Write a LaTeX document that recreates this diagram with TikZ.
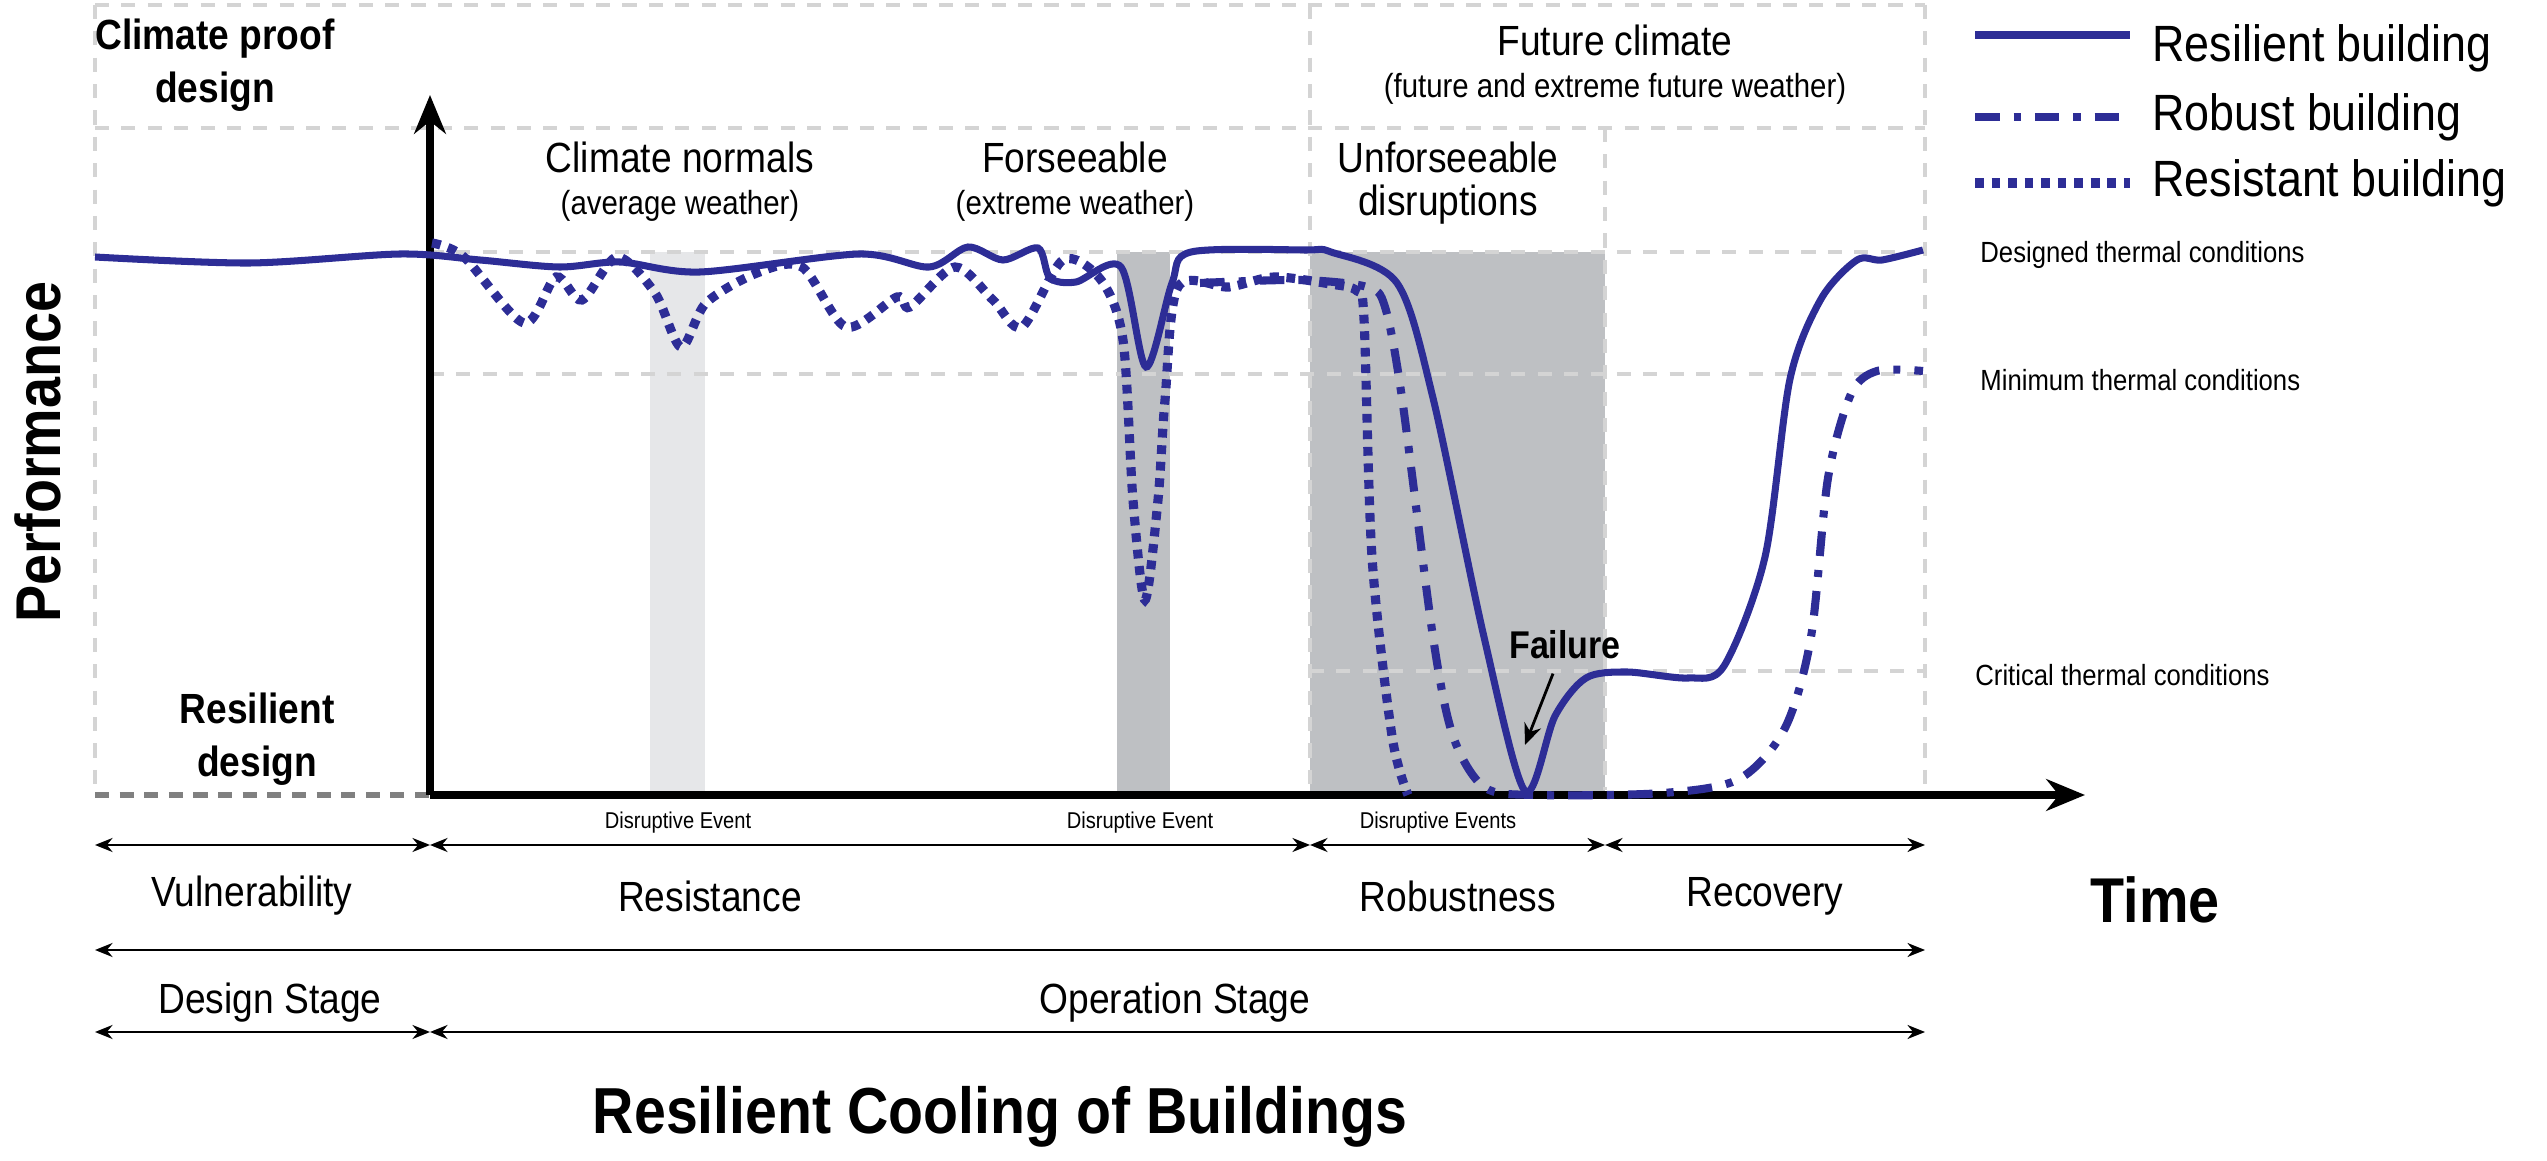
\documentclass[tikz,border=0pt]{standalone}
\usepackage{fontspec}
\setmainfont{Liberation Sans}[FakeStretch=0.88]
\usetikzlibrary{arrows.meta}
\definecolor{bl}{RGB}{45,45,150}
\definecolor{gd}{RGB}{212,212,212}
\definecolor{sh}{RGB}{190,192,195}
\definecolor{lsh}{RGB}{230,231,233}
\tikzset{
 grid/.style={gd,line width=1.2pt,dash pattern=on 4pt off 3.5pt},
 solidc/.style={bl,line width=2pt},
 dotc/.style={bl,line width=2.6pt,dash pattern=on 2.5pt off 2.2pt},
 ddc/.style={bl,line width=2.3pt,dash pattern=on 7pt off 4pt on 2pt off 4pt},
 span/.style={{Stealth[length=5pt,width=4pt]}-{Stealth[length=5pt,width=4pt]},line width=0.6pt},
 lbl/.style={font=\fontsize{12}{13}\selectfont,text=black},
 sm/.style={font=\fontsize{6.5}{7}\selectfont},
 rl/.style={font=\fontsize{8.3}{9}\selectfont,anchor=west},
 bd/.style={font=\bfseries\fontsize{12}{15}\selectfont},
}
\begin{document}
\begin{tikzpicture}[x=0.01cm,y=-0.01cm]
\useasboundingbox (0,0) rectangle (2547,1161);
% shading
\fill[lsh] (650,252) rectangle (705,795);
\fill[sh] (1117,252) rectangle (1170,795);
\fill[sh] (1310,252) rectangle (1605,795);
% grid
\draw[grid] (95,5) -- (1925,5);
\draw[grid] (95,128) -- (1925,128);
\draw[grid] (430,252) -- (1925,252);
\draw[grid] (430,374) -- (1925,374);
\draw[grid] (1310,671) -- (1925,671);
\draw[grid] (95,5) -- (95,790);
\draw[grid] (1310,5) -- (1310,790);
\draw[grid] (1605,128) -- (1605,790);
\draw[grid] (1925,5) -- (1925,790);
\draw[gray,line width=1.6pt,dash pattern=on 4pt off 3pt] (95,795) -- (430,795);
% axes
\coordinate (o) at (430,795); \coordinate (ytop) at (430,95); \coordinate (xend) at (2085,795);
\draw[line width=2pt,-{Stealth[length=11pt,width=9pt]}] (o) -- (ytop);
\draw[line width=2pt,-{Stealth[length=11pt,width=9pt]}] (o) -- (xend);
% curves
\draw[dotc] plot[smooth,tension=0.5] coordinates {(432,243) (464,257) (524,323) (556,277) (582,300) (617,257) (655,293) (681,347) (706,303) (757,273) (802,267) (846,327) (897,297) (910,307) (955,267) (993,300) (1022,327) (1063,260) (1101,280) (1123,340) (1133,500) (1145,600) (1158,500) (1165,400) (1178,287) (1229,287) (1274,277) (1330,284) (1357,291) (1364,319) (1372,557) (1392,736) (1408,795)};
\draw[ddc] plot[smooth,tension=0.5] coordinates {(1200,283) (1300,280) (1367,287) (1385,307) (1402,398) (1433,637) (1453,736) (1484,787) (1535,795) (1663,793) (1739,779) (1785,728) (1811,637) (1828,478) (1851,394) (1877,371) (1923,371)};
\draw[solidc] plot[smooth,tension=0.5] coordinates {(95,257) (250,263) (400,254) (480,260) (559,267) (620,262) (700,272) (859,254) (929,267) (968,247) (1003,260) (1038,248) (1050,278) (1076,282) (1121,267) (1146,367) (1172,283) (1191,252) (1306,250) (1331,252) (1397,283) (1433,398) (1484,637) (1525,791) (1555,716) (1586,678) (1627,672) (1688,678) (1724,666) (1765,557) (1790,379) (1821,299) (1857,260) (1882,260) (1923,250)};
% legend
\coordinate (l1a) at (1975,35); \coordinate (l1b) at (2130,35);
\coordinate (l2a) at (1975,117); \coordinate (l2b) at (2130,117);
\coordinate (l3a) at (1975,183); \coordinate (l3b) at (2130,183);
\draw[solidc,line width=2.4pt] (l1a) -- (l1b);
\draw[ddc] (l2a) -- (l2b);
\draw[dotc] (l3a) -- (l3b);
\node[lbl,anchor=west,font=\fontsize{14.5}{15}\selectfont] (t1) at (2140,48) {Resilient building};
\node[lbl,anchor=west,font=\fontsize{14.5}{15}\selectfont] (t2) at (2140,117) {Robust building};
\node[lbl,anchor=west,font=\fontsize{14.5}{15}\selectfont] (t3) at (2140,183) {Resistant building};
% right labels
\node[rl] (r1) at (1968,255) {Designed thermal conditions};
\node[rl] (r2) at (1968,380) {Minimum thermal conditions};
\node[rl] (r3) at (1963,675) {Critical thermal conditions};
% top texts
\node[bd,align=center] (cpd) at (215,65) {Climate proof\\design};
\node[bd,align=center] (rd) at (257,739) {Resilient\\design};
\node[lbl,align=center] (cn) at (680,182) {Climate normals\\[-1pt]{\fontsize{9.5}{10}\selectfont (average weather)}};
\node[lbl,align=center] (fs) at (1075,182) {Forseeable\\[-1pt]{\fontsize{9.5}{10}\selectfont (extreme weather)}};
\node[lbl,align=center] (ud) at (1448,183) {Unforseeable\\[-1pt]disruptions};
\node[lbl,align=center] (fc) at (1615,65) {Future climate\\[-1pt]{\fontsize{9.5}{10}\selectfont (future and extreme future weather)}};
\node[font=\bfseries\fontsize{18}{20}\selectfont,rotate=90] (perf) at (38,452) {Performance};
\node[font=\bfseries\fontsize{18}{20}\selectfont] (time) at (2155,900) {Time};
\node[font=\bfseries\fontsize{18.5}{20}\selectfont] (title) at (1000,1117) {Resilient Cooling of Buildings};
% failure
\node[font=\bfseries\fontsize{11}{12}\selectfont] (fail) at (1565,645) {Failure};
\coordinate (fa) at (1525,745);
\draw[line width=0.8pt,-{Stealth[length=6pt,width=5pt]}] (fail.south) ++(-12,2) -- (fa);
% disruptive
\node[sm] (d1) at (678,823) {Disruptive Event};
\node[sm] (d2) at (1140,823) {Disruptive Event};
\node[sm] (d3) at (1438,823) {Disruptive Events};
% span rows
\coordinate (a0) at (95,845); \coordinate (a1) at (430,845); \coordinate (a2) at (1310,845); \coordinate (a3) at (1605,845); \coordinate (a4) at (1925,845);
\draw[span] (a0) -- (a1); \draw[span] (a1) -- (a2); \draw[span] (a2) -- (a3); \draw[span] (a3) -- (a4);
\node[lbl] (v) at (252,896) {Vulnerability};
\node[lbl] (rs) at (710,896) {Resistance};
\node[lbl] (rb) at (1458,896) {Robustness};
\node[lbl] (rc) at (1765,896) {Recovery};
\coordinate (b0) at (95,950); \coordinate (b1) at (1925,950);
\draw[span] (b0) -- (b1);
\node[lbl] (ds) at (270,1003) {Design Stage};
\node[lbl] (os) at (1175,1003) {Operation Stage};
\coordinate (c0) at (95,1032); \coordinate (c1) at (430,1032); \coordinate (c2) at (1925,1032);
\draw[span] (c0) -- (c1); \draw[span] (c1) -- (c2);
\end{tikzpicture}
\end{document}
